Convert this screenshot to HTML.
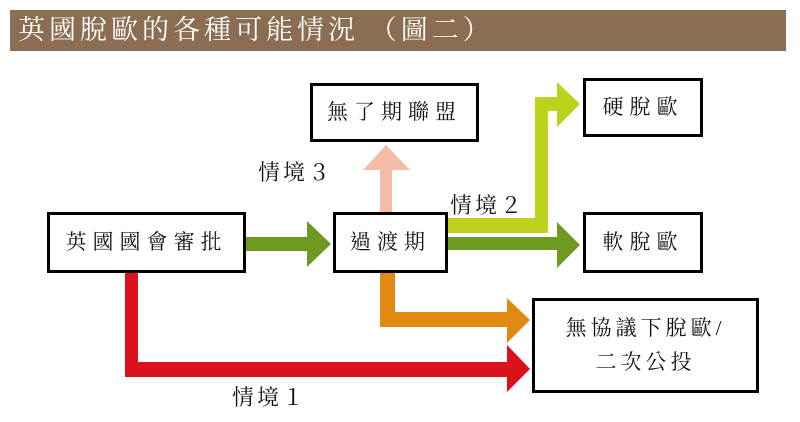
<!DOCTYPE html>
<html><head><meta charset="utf-8"><style>
body{margin:0;width:800px;height:422px;background:#fff;overflow:hidden;position:relative;font-family:"Liberation Serif","Noto Serif CJK TC","Noto Serif CJK SC",serif}
.hdr{position:absolute;left:10px;top:10px;width:776px;height:41px;background:#8b6d54;color:#fff;font-size:27px;line-height:41px;padding-left:8px;box-sizing:border-box;letter-spacing:4px}
.b{position:absolute;border:3px solid #000;box-sizing:border-box;display:flex;align-items:center;justify-content:center;text-align:center;font-size:21px;letter-spacing:6px;color:#111;line-height:1.6;background:#fff}
.l{position:absolute;font-size:22px;color:#111;letter-spacing:3px}
svg{position:absolute;left:0;top:0}
</style></head><body>
<div class="hdr">英國脫歐的各種可能情況 （圖二）</div>
<svg width="800" height="422">
<polygon points="380,170 392,170 392,214 380,214" fill="#f4bca8"/>
<polygon points="363,170 410,170 386,145" fill="#f4bca8"/>
<polygon points="447,218 535,218 535,97 557,97 557,111 548,111 548,233 447,233" fill="#bcd21d"/>
<polygon points="557,82 580,104 557,127" fill="#bcd21d"/>
<rect x="447" y="237" width="112" height="13" fill="#6f9a22"/>
<polygon points="557,222 580,245 557,268" fill="#6f9a22"/>
<rect x="245" y="237" width="62" height="14" fill="#6f9a22"/>
<polygon points="307,221 331,244 307,267" fill="#6f9a22"/>
<polygon points="380,272 395,272 395,312 507,312 507,327 380,327" fill="#e08a12"/>
<polygon points="507,298 530,320 507,343" fill="#e08a12"/>
<polygon points="125,272 138,272 138,362 507,362 507,377 125,377" fill="#dc111c"/>
<polygon points="507,345 530,369 507,392" fill="#dc111c"/>
</svg>
<div class="b" style="left:47px;top:212px;width:199px;height:61px">英國國會審批</div>
<div class="b" style="left:333px;top:212px;width:115px;height:61px">過渡期</div>
<div class="b" style="left:310px;top:83px;width:169px;height:59px">無了期聯盟</div>
<div class="b" style="left:583px;top:78px;width:120px;height:59px">硬脫歐</div>
<div class="b" style="left:583px;top:212px;width:120px;height:61px">軟脫歐</div>
<div class="b" style="left:532px;top:298px;width:227px;height:95px;letter-spacing:4px">無協議下脫歐/<br>二次公投</div>
<div class="l" style="left:258px;top:156px">情境３</div>
<div class="l" style="left:450px;top:189px">情境２</div>
<div class="l" style="left:232px;top:381px">情境１</div>
</body></html>
